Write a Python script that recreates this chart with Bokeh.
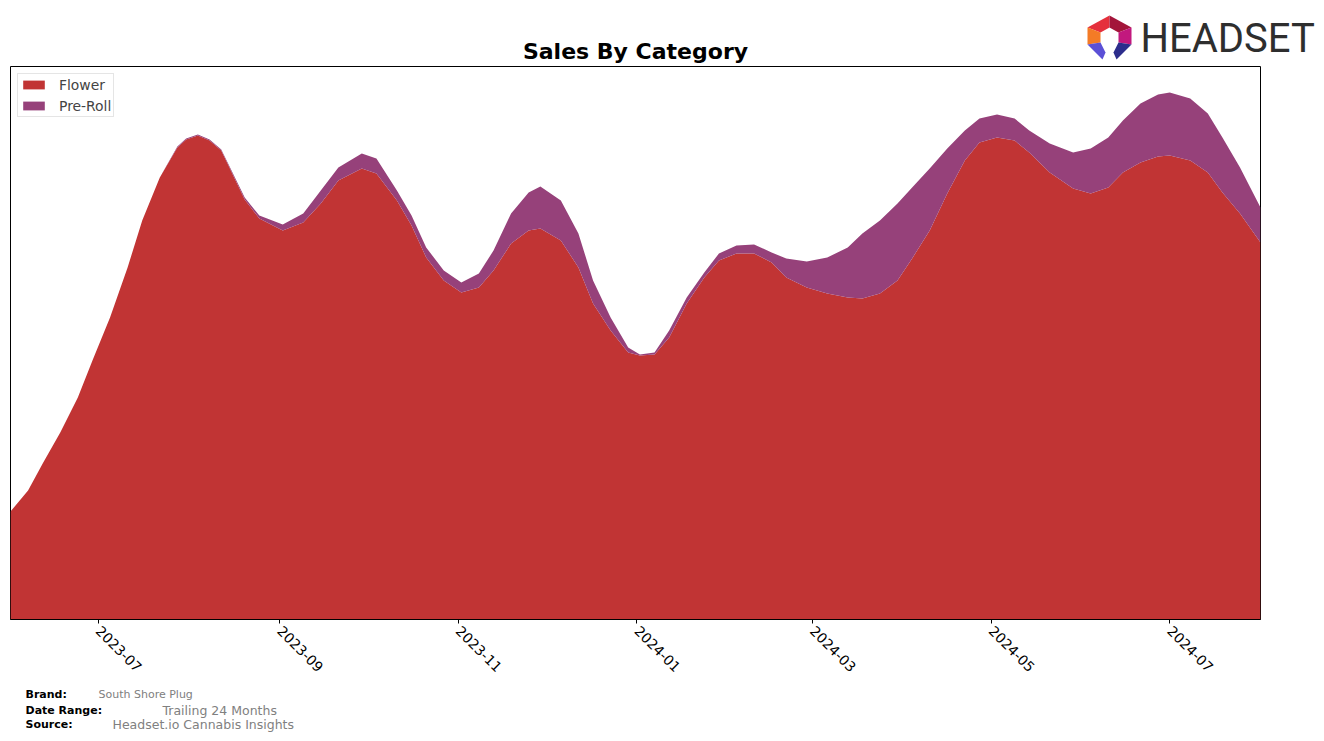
import math
import pandas as pd
from bokeh.plotting import figure
from bokeh.layouts import column
from bokeh.models import Range1d, FixedTicker, DatetimeTickFormatter, ColumnDataSource
from bokeh.core.properties import value
from bokeh.embed import file_html
from bokeh.resources import INLINE

# ---------------- data ----------------
dates = [
    "2023-06-01", "2023-06-07", "2023-06-12", "2023-06-18", "2023-06-24", "2023-06-29",
    "2023-07-05", "2023-07-11", "2023-07-16", "2023-07-22", "2023-07-28", "2023-07-31",
    "2023-08-04", "2023-08-08", "2023-08-12", "2023-08-20", "2023-08-25", "2023-09-02",
    "2023-09-09", "2023-09-15", "2023-09-21", "2023-09-29", "2023-10-04", "2023-10-11",
    "2023-10-16", "2023-10-21", "2023-10-27", "2023-11-02", "2023-11-08", "2023-11-13",
    "2023-11-19", "2023-11-25", "2023-11-29", "2023-12-06", "2023-12-12", "2023-12-17",
    "2023-12-23", "2023-12-29", "2024-01-02", "2024-01-07", "2024-01-12", "2024-01-18",
    "2024-01-24", "2024-01-29", "2024-02-04", "2024-02-10", "2024-02-16", "2024-02-21",
    "2024-02-28", "2024-03-06", "2024-03-13", "2024-03-18", "2024-03-24", "2024-03-30",
    "2024-04-04", "2024-04-10", "2024-04-16", "2024-04-22", "2024-04-27", "2024-05-03",
    "2024-05-09", "2024-05-14", "2024-05-21", "2024-05-29", "2024-06-04", "2024-06-10",
    "2024-06-15", "2024-06-21", "2024-06-27", "2024-07-01", "2024-07-08", "2024-07-14",
    "2024-07-19", "2024-07-25", "2024-08-01",
]
flower = [
    10800, 12900, 15600, 18700, 22200, 25900,
    30200, 35200, 39900, 44200, 47200, 48000,
    48400, 47900, 46900, 42000, 40100, 38900,
    39700, 41600, 43900, 45100, 44600, 41900,
    39400, 36200, 33900, 32700, 33200, 34900,
    37600, 38900, 39100, 37900, 35200, 31600,
    28900, 26700, 26400, 26500, 28200, 31600,
    34200, 35900, 36600, 36600, 35700, 34200,
    33200, 32600, 32200, 32100, 32600, 33900,
    36100, 38900, 42600, 45900, 47700, 48200,
    47900, 46700, 44700, 43100, 42600, 43200,
    44700, 45700, 46300, 46400, 45900, 44700,
    42700, 40600, 37700,
]
preroll = [
    0, 0, 0, 0, 0, 0,
    0, 0, 0, 0, 100, 100,
    100, 100, 100, 200, 300, 600,
    900, 1300, 1300, 1500, 1500, 1000,
    1000, 1000, 1000, 1000, 1400, 2000,
    3000, 3800, 4200, 4000, 3400, 2300,
    1300, 500, 100, 200, 700, 600,
    500, 700, 800, 900, 1000, 1900,
    2600, 3600, 5000, 6500, 7300, 7700,
    7100, 6200, 4500, 3000, 2400, 2300,
    2200, 2200, 2900, 3600, 4500, 5000,
    5200, 5900, 6200, 6300, 6200, 5900,
    5500, 4600, 3500,
]
categories = ["Flower", "Pre-Roll"]
colors = ["#c13434", "#96417a"]
tick_labels = ["2023-07", "2023-09", "2023-11", "2024-01", "2024-03", "2024-05", "2024-07"]
x_start, x_end = "2023-06-01", "2024-08-01"

chart_title = "Sales By Category"
footer_keys = ["Brand:", "Date Range:", "Source:"]
footer_vals = ["South Shore Plug", "Trailing 24 Months", "Headset.io Cannabis Insights"]

W = 1324
TOP_H = 65
MAIN_H = 617


def blank(h, y_top, y_bottom):
    f = figure(width=W, height=h, x_range=Range1d(0, W), y_range=Range1d(y_bottom, y_top),
               x_axis_location=None, y_axis_location=None, toolbar_location=None,
               output_backend="svg", min_border=0, frame_align=False)
    f.outline_line_color = None
    f.xgrid.visible = False
    f.ygrid.visible = False
    f.background_fill_color = "white"
    f.border_fill_color = "white"
    return f


# ---------------- top strip: title + logo ----------------
top = blank(TOP_H, 0, TOP_H)
top.text(x=[635], y=[51], text=[chart_title], text_font=value("DejaVu Sans"),
         text_font_size="22px", text_font_style="bold", text_color="black",
         text_align="center", text_baseline="alphabetic")
top.text(x=[1140], y=[38], text=["HEADSET"], text_font=value("Roboto"),
         text_font_size="40px", text_color="#2e2e2e",
         text_align="left", text_baseline="middle")
logo_parts = [
    ([1087, 1109, 1109, 1100], [27, 15, 27, 32], "#e5303c"),
    ([1109, 1131, 1118, 1109], [15, 27, 32, 27], "#a3153a"),
    ([1131, 1131, 1118, 1118], [27, 44, 42, 32], "#c2187e"),
    ([1087, 1100, 1100, 1087], [27, 32, 42, 44], "#f47b26"),
    ([1087, 1100, 1105, 1102], [44, 42, 52, 59], "#5b50d6"),
    ([1131, 1118, 1113, 1116], [44, 42, 52, 59], "#2c2d8c"),
]
top.patches(xs=[a for a, b, c in logo_parts], ys=[b for a, b, c in logo_parts],
            fill_color=[c for a, b, c in logo_parts], line_color=None)

# ---------------- main chart ----------------
src = ColumnDataSource(pd.DataFrame({
    "date": pd.to_datetime(dates), "flower": flower, "preroll": preroll}))

p = figure(width=W, height=MAIN_H, x_axis_type="datetime", y_axis_location=None,
           output_backend="svg", toolbar_location=None, frame_align=False,
           x_range=Range1d(pd.Timestamp(x_start), pd.Timestamp(x_end)),
           y_range=Range1d(0, 55300),
           min_border_left=10, min_border_right=64, min_border_top=1,
           min_border_bottom=63)

p.varea_stack(["flower", "preroll"], x="date", source=src, color=colors,
              legend_label=categories)

p.background_fill_color = "white"
p.border_fill_color = "white"
p.outline_line_color = "black"
p.outline_line_width = 1
p.outline_line_alpha = 1
p.xgrid.visible = False
p.ygrid.visible = False

ticks = [pd.Timestamp(t + "-01").timestamp() * 1000 for t in tick_labels]
ax = p.xaxis[0]
ax.ticker = FixedTicker(ticks=ticks)
fmt = "%Y-%m"
ax.formatter = DatetimeTickFormatter(milliseconds=fmt, seconds=fmt, minsec=fmt,
                                     minutes=fmt, hourmin=fmt, hours=fmt, days=fmt,
                                     months=fmt, years=fmt)
ax.major_label_orientation = -math.pi / 4
ax.major_label_text_font = "DejaVu Sans"
ax.major_label_text_font_size = "13.9px"
ax.major_label_text_color = "black"
ax.major_label_standoff = 5
ax.major_tick_out = 4
ax.major_tick_in = 0
ax.minor_tick_line_color = None
ax.axis_line_color = "black"
ax.major_tick_line_color = "black"

lg = p.legend[0]
lg.location = "top_left"
lg.margin = 7
lg.padding = 2
lg.spacing = 4
lg.label_height = 17
lg.glyph_height = 11
lg.glyph_width = 27
lg.label_standoff = 12
lg.label_text_font = "DejaVu Sans"
lg.label_text_font_size = "13.9px"
lg.border_line_color = "#cccccc"
lg.border_line_width = 1
lg.background_fill_alpha = 0.8

# ---------------- footer ----------------
FOOT_TOP = TOP_H + MAIN_H
foot = blank(741 - FOOT_TOP, FOOT_TOP, 741)
foot.text(x=[25, 25, 25], y=[694, 710, 724], text=footer_keys,
          text_font=value("DejaVu Sans"), text_font_size="11px", text_font_style="bold",
          text_color="black", text_align="left", text_baseline="middle")
foot.text(x=[98], y=[694], text=footer_vals[:1], text_font=value("DejaVu Sans"),
          text_font_size="11px", text_color="#808080", text_align="left",
          text_baseline="middle")
foot.text(x=[162, 112], y=[710, 724], text=footer_vals[1:], text_font=value("DejaVu Sans"),
          text_font_size="12.5px", text_color="#808080", text_align="left",
          text_baseline="middle")

layout = column(top, p, foot, spacing=0)
open("out.html", "w").write(file_html(layout, INLINE))
